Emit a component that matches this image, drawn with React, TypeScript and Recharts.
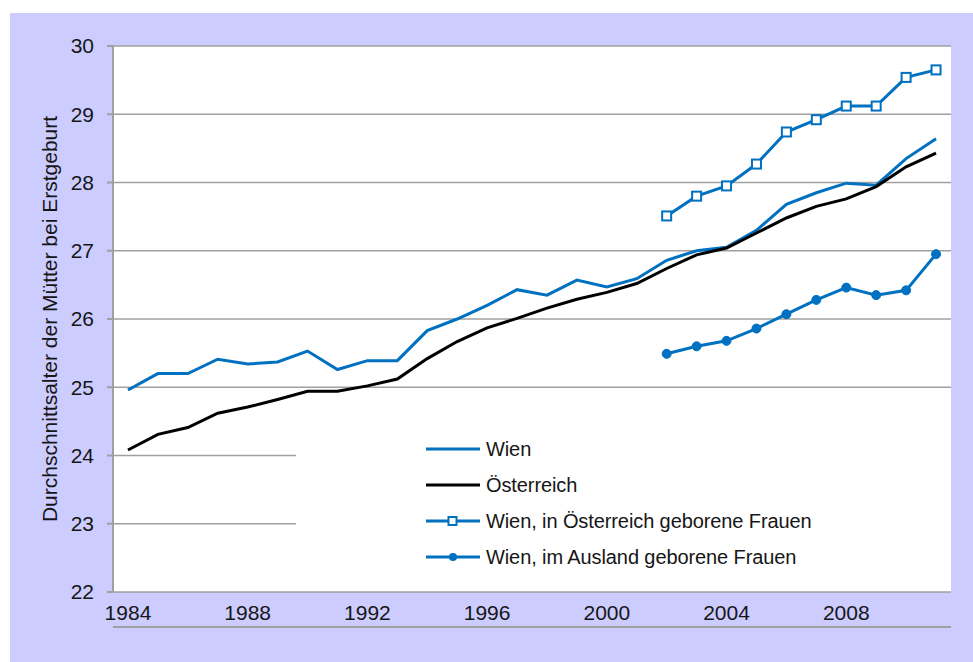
import React from "react";
import {
  LineChart,
  Line,
  XAxis,
  YAxis,
  CartesianGrid,
  Legend,
} from "recharts";

const years = [
  1984, 1985, 1986, 1987, 1988, 1989, 1990, 1991, 1992, 1993, 1994, 1995, 1996,
  1997, 1998, 1999, 2000, 2001, 2002, 2003, 2004, 2005, 2006, 2007, 2008, 2009,
  2010, 2011,
];
const wien = [
  24.96, 25.2, 25.2, 25.41, 25.34, 25.37, 25.53, 25.26, 25.39, 25.39, 25.83,
  26.0, 26.2, 26.43, 26.35, 26.57, 26.47, 26.59, 26.86, 27.0, 27.05, 27.3,
  27.68, 27.85, 27.99, 27.96, 28.35, 28.64,
];
const oesterreich = [
  24.08, 24.31, 24.41, 24.62, 24.71, 24.82, 24.94, 24.94, 25.02, 25.12, 25.42,
  25.67, 25.87, 26.01, 26.16, 26.29, 26.39, 26.52, 26.74, 26.94, 27.04, 27.26,
  27.48, 27.65, 27.76, 27.94, 28.23, 28.43,
];
const splitYears = [2002, 2003, 2004, 2005, 2006, 2007, 2008, 2009, 2010, 2011];
const wienInOe = [27.51, 27.8, 27.95, 28.27, 28.74, 28.92, 29.12, 29.12, 29.54, 29.65];
const wienAusland = [25.49, 25.6, 25.68, 25.86, 26.07, 26.28, 26.46, 26.35, 26.42, 26.95];

const yTicks = [22, 23, 24, 25, 26, 27, 28, 29, 30];
const xLabelYears = [1984, 1988, 1992, 1996, 2000, 2004, 2008];
const xBoundaries = [...years.map((y) => y - 0.5), years[years.length - 1] + 0.5];

const seriesOrder = ["wien", "oe", "inOe", "ausland"];
const seriesNames = {
  wien: "Wien",
  oe: "Österreich",
  inOe: "Wien, in Österreich geborene Frauen",
  ausland: "Wien, im Ausland geborene Frauen",
};
const yLabel = "Durchschnittsalter der Mütter bei Erstgeburt";

const BLUE = "#0070C0";
const BLACK = "#000000";
const GRID = "#A0A0A0";
const TEXT = "#161616";
const FONT = "'Liberation Sans', Arial, sans-serif";

const data = years.map((year, i) => {
  const j = splitYears.indexOf(year);
  return {
    year,
    wien: wien[i],
    oe: oesterreich[i],
    inOe: j >= 0 ? wienInOe[j] : null,
    ausland: j >= 0 ? wienAusland[j] : null,
  };
});

const SquareDot = (props: any) => {
  const { cx, cy, index } = props;
  if (cx == null || cy == null || isNaN(cy)) return <g key={`s${index}`} />;
  return (
    <rect
      key={`s${index}`}
      x={cx - 4.5}
      y={cy - 4.5}
      width={9}
      height={9}
      fill="#fff"
      stroke={BLUE}
      strokeWidth={2}
    />
  );
};

const CircleDot = (props: any) => {
  const { cx, cy, index } = props;
  if (cx == null || cy == null || isNaN(cy)) return <g key={`c${index}`} />;
  return <circle key={`c${index}`} cx={cx} cy={cy} r={4.5} fill={BLUE} stroke={BLUE} />;
};

const renderLegend = (props: any) => {
  const payload = [...(props.payload || [])].sort(
    (a: any, b: any) => seriesOrder.indexOf(a.dataKey) - seriesOrder.indexOf(b.dataKey)
  );
  return (
    <div
      style={{
        width: "100%",
        height: "100%",
        background: "#fff",
        paddingTop: 16,
        paddingLeft: 129,
        boxSizing: "border-box",
        fontFamily: FONT,
      }}
    >
      {payload.map((entry: any) => {
        const key = entry.dataKey;
        return (
          <div
            key={key}
            style={{ height: 36, display: "flex", alignItems: "center" }}
          >
            <svg width={56} height={14} style={{ marginRight: 5 }}>
              <line x1={1} y1={7} x2={55} y2={7} stroke={entry.color} strokeWidth={3} />
              {key === "inOe" && (
                <rect x={23.5} y={3} width={8} height={8} fill="#fff" stroke={BLUE} strokeWidth={2} />
              )}
              {key === "ausland" && <circle cx={28} cy={7} r={4} fill={BLUE} />}
            </svg>
            <span style={{ fontSize: 20, color: TEXT, letterSpacing: -0.1 }}>
              {entry.value}
            </span>
          </div>
        );
      })}
    </div>
  );
};

export default function App() {
  return (
    <div
      style={{
        position: "absolute",
        left: 10,
        top: 13,
        width: 963,
        height: 649,
        background: "#CCCCFF",
      }}
    >
      <LineChart
        width={963}
        height={649}
        data={data}
        margin={{ top: 33, right: 22, left: 0, bottom: 30 }}
      >
        <CartesianGrid
          horizontal={true}
          vertical={false}
          fill="#ffffff"
          stroke={GRID}
          strokeWidth={1.5}
          yAxisId="y"
          xAxisId="t"
        />
        <XAxis
          xAxisId="t"
          dataKey="year"
          type="number"
          domain={[xBoundaries[0], xBoundaries[xBoundaries.length - 1]]}
          ticks={xBoundaries}
          tick={false}
          tickSize={5}
          height={5}
          stroke={GRID}
          strokeWidth={2}
        />
        <XAxis
          xAxisId="l"
          dataKey="year"
          type="number"
          domain={[xBoundaries[0], xBoundaries[xBoundaries.length - 1]]}
          ticks={xLabelYears}
          axisLine={false}
          tickLine={false}
          tickSize={0}
          tickMargin={13}
          height={35}
          interval={0}
          tick={{ fontSize: 21, fill: TEXT, fontFamily: FONT }}
        />
        <YAxis
          yAxisId="y"
          type="number"
          domain={[22, 30]}
          ticks={yTicks}
          interval={0}
          width={103}
          tickSize={6}
          tickMargin={13}
          stroke={GRID}
          strokeWidth={2}
          tick={{ fontSize: 21, fill: TEXT, fontFamily: FONT }}
          label={{
            value: yLabel,
            angle: -90,
            position: "insideLeft",
            offset: 40,
            style: { textAnchor: "middle", fontSize: 21, fill: TEXT, fontFamily: FONT },
          }}
        />
        <Legend
          layout="vertical"
          align="center"
          verticalAlign="middle"
          content={renderLegend}
          wrapperStyle={{ left: 286, top: 402, width: 655, height: 173 }}
        />
        <Line
          xAxisId="t"
          yAxisId="y"
          dataKey="wien"
          name={seriesNames.wien}
          stroke={BLUE}
          strokeWidth={3}
          dot={false}
          isAnimationActive={false}
        />
        <Line
          xAxisId="t"
          yAxisId="y"
          dataKey="oe"
          name={seriesNames.oe}
          stroke={BLACK}
          strokeWidth={3}
          dot={false}
          isAnimationActive={false}
        />
        <Line
          xAxisId="t"
          yAxisId="y"
          dataKey="inOe"
          name={seriesNames.inOe}
          stroke={BLUE}
          strokeWidth={3}
          dot={SquareDot}
          isAnimationActive={false}
        />
        <Line
          xAxisId="t"
          yAxisId="y"
          dataKey="ausland"
          name={seriesNames.ausland}
          stroke={BLUE}
          strokeWidth={3}
          dot={CircleDot}
          isAnimationActive={false}
        />
      </LineChart>
    </div>
  );
}
